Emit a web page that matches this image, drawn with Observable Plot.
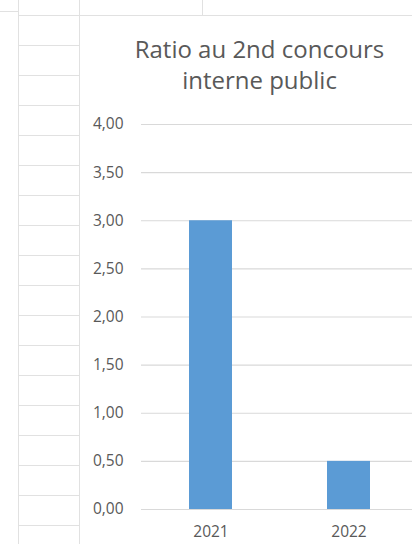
<!DOCTYPE html>
<html>
<head>
<meta charset="utf-8">
<script src="https://cdn.jsdelivr.net/npm/d3@7"></script>
<script src="https://cdn.jsdelivr.net/npm/@observablehq/plot@0.6"></script>
<style>
  html, body { margin: 0; padding: 0; }
  body { width: 412px; height: 544px; overflow: hidden; position: relative; background: #fff; font-family: "Open Sans", sans-serif; }
  .gl { position: absolute; background: #e1e1e1; }
  #rows { position: absolute; left: 19px; top: 15px; width: 60px; height: 529px;
    background-image: repeating-linear-gradient(to bottom, #e1e1e1 0px, #e1e1e1 1.3px, transparent 1.3px, transparent 30px); }
  #chart { position: absolute; left: 80px; top: 16px; width: 359px; height: 528px; background: #fff; }
  #title { position: absolute; left: 0; top: 17px; width: 359px; text-align: center; color: #595959; font-family: "Open Sans", sans-serif; font-size: 24px; line-height: 31px; }
  #plot { position: absolute; left: 0; top: 84px; }
</style>
</head>
<body>
<div class="gl" style="left:0;top:10.5px;width:19px;height:1.3px"></div>
<div class="gl" style="left:18px;top:0;width:1.3px;height:544px"></div>
<div class="gl" style="left:78.5px;top:0;width:1.3px;height:544px"></div>
<div class="gl" style="left:201.5px;top:0;width:1.3px;height:15px"></div>
<div class="gl" style="left:19px;top:14.5px;width:393px;height:1.3px"></div>
<div id="rows"></div>
<div id="chart">
  <div id="title">Ratio au 2nd concours<br>interne public</div>
  <div id="plot"></div>
</div>
<script>
const years = ["2021", "2022"];
const ratios = [3.0, 0.5];
const yTicks = [0, 0.5, 1, 1.5, 2, 2.5, 3, 3.5, 4];

const data = years.map((y, i) => ({year: y, ratio: ratios[i]}));
const fmt = d => d.toFixed(2).replace(".", ",");

const chart = Plot.plot({
  width: 359,
  height: 444,
  marginLeft: 61,
  marginRight: 21,
  marginTop: 24,
  marginBottom: 35,
  style: {fontFamily: "'Open Sans', sans-serif", fontSize: "15.5px", color: "#595959", background: "transparent", overflow: "visible"},
  x: {domain: years, paddingInner: 0.69, paddingOuter: 0.345, label: null},
  y: {domain: [0, 4], ticks: yTicks, label: null},
  marks: [
    Plot.ruleY(yTicks, {stroke: "#d9d9d9", strokeWidth: 1.2}),
    Plot.barY(data, {x: "year", y: "ratio", fill: "#5b9bd5"}),
    Plot.axisY({ticks: yTicks, tickSize: 0, tickPadding: 18, tickFormat: fmt, label: null, fill: "#595959"}),
    Plot.axisX({tickSize: 0, tickPadding: 16, label: null, fill: "#595959"})
  ]
});
document.getElementById("plot").appendChild(chart);
</script>
</body>
</html>
